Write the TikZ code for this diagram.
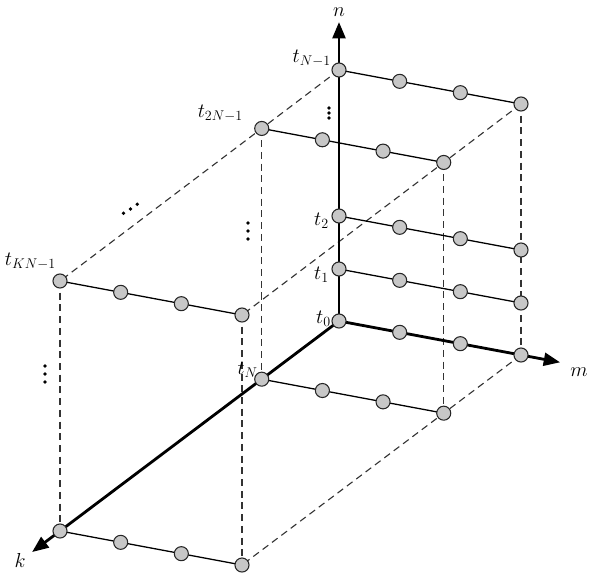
\documentclass[tikz,border=0pt]{standalone}
\usepackage{tikz}
\usetikzlibrary{arrows.meta, calc}

\tikzset{
  sample/.style={circle, draw=black!85, fill=black!22, line width=0.9pt, minimum size=12pt, inner sep=0pt},
  axis/.style={line width=2.4pt, -{Triangle[length=14pt, width=11pt]}},
  rowline/.style={line width=1.1pt},
  hidden/.style={line width=0.95pt, black!80, dash pattern=on 6pt off 4pt},
  vdot/.style={circle, fill=black, inner sep=0pt, minimum size=3.2pt},
  lbl/.style={inner sep=0pt},
}

\begin{document}
\begin{tikzpicture}[x=0.03cm, y=-0.03cm, font=\fontsize{17}{20}\selectfont]
\useasboundingbox (0,0) rectangle (597,579);

% --- Left ends of the sample rows ---
\coordinate (A0) at (339,321);  % t_0
\coordinate (A1) at (339,269);  % t_1
\coordinate (A2) at (339,216);  % t_2
\coordinate (A3) at (339,70);   % t_{N-1}
\coordinate (C0) at (60,531);
\coordinate (C3) at (60,281);   % t_{KN-1}
% second block sits a bit along the k axis
\coordinate (B0) at ($(A0)!0.277!(C0)$); % t_N
\coordinate (B3) at ($(A3)!0.277!(C3)$); % t_{2N-1}

% --- Right ends (one step of m) ---
\foreach \r in {A0,A1,A2,A3,B0,B3,C0,C3}
  \coordinate (\r r) at ($(\r)+(182,34)$);

% --- Hidden edges of the box ---
\draw[hidden] (A3) -- (C3);
\draw[hidden] (A3r) -- (C3r);
\draw[hidden] (A0r) -- (C0r);
\draw[hidden] (C3) -- (C0);
\draw[hidden] (C3r) -- (C0r);
\draw[hidden] (B3) -- (B0);
\draw[hidden] (B3r) -- (B0r);
\draw[hidden] (A3r) -- (A0r);

% --- Axes ---
\coordinate (ntip) at (339,22);
\coordinate (mtip) at ($(A0)!1.215!(A0r)$);
\coordinate (ktip) at ($(A0)!1.1!(C0)$);
\draw[axis] (A0) -- (ntip);
\draw[axis] (A0) -- (mtip);
\draw[axis] (A0) -- (ktip);

% --- Rows of samples ---
\foreach \r in {A1,A2,A3,B0,B3,C0,C3}
  \draw[rowline] (\r) -- (\r r);
\foreach \r in {A0,A1,A2,A3,B0,B3,C0,C3}
  \foreach \i in {0,1,2,3}
    \node[sample] (\r-\i) at ($(\r)!\i/3!(\r r)$) {};

% --- Dots ---
\foreach \y [count=\i] in {108,113,118}
  \node[vdot] (da-\i) at (329,\y) {};
\foreach \y [count=\i] in {223,231,239}
  \node[vdot] (db-\i) at (248,\y) {};
\foreach \y [count=\i] in {366,374,382}
  \node[vdot] (dc-\i) at (45,\y) {};
\foreach \x/\y [count=\i] in {123.5/213.3, 130.5/209, 137.3/204.3}
  \node[vdot] (dd-\i) at (\x,\y) {};

% --- Labels ---
\node[lbl, anchor=south east] (lA3) at (331,67) {$t_{N{-}1}$};
\node[lbl, anchor=south east] (lB3) at (243,122) {$t_{2N{-}1}$};
\node[lbl, anchor=south east] (lC3) at (56,270) {$t_{KN{-}1}$};
\node[lbl, anchor=south east] (lA2) at (329,229) {$t_2$};
\node[lbl, anchor=south east] (lA1) at (329,283) {$t_1$};
\node[lbl, anchor=south east] (lA0) at (331,327) {$t_0$};
\node[lbl, anchor=south east] (lB0) at (258,378) {$t_N$};
\node[lbl] (ln) at (339,12) {$n$};
\node[lbl] (lm) at (579,372) {$m$};
\node[lbl] (lk) at (20,560) {$k$};
\end{tikzpicture}
\end{document}
